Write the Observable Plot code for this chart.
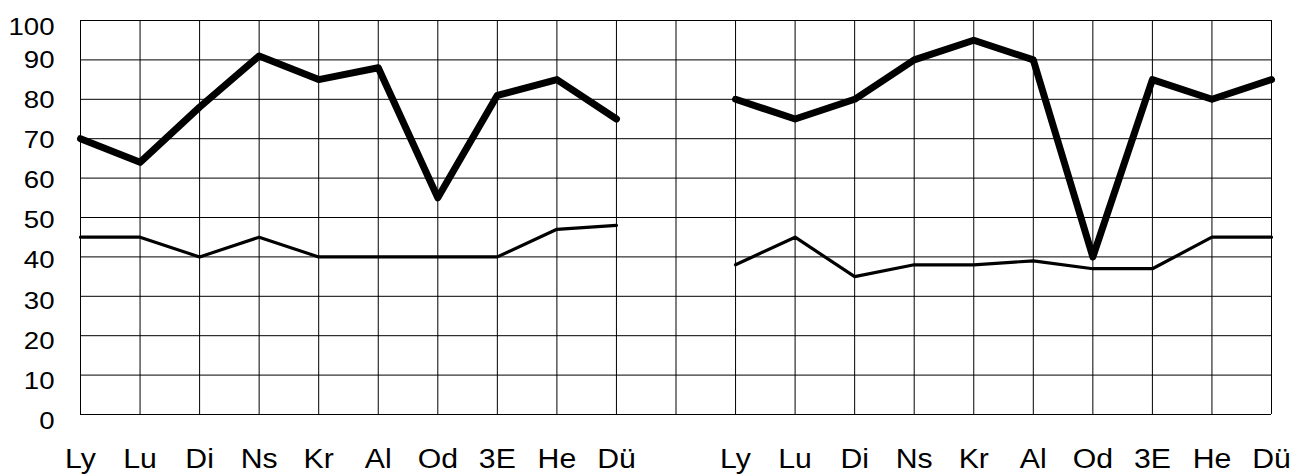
<!DOCTYPE html>
<html>
<head>
<meta charset="utf-8">
<script src="https://cdn.jsdelivr.net/npm/d3@7"></script>
<script src="https://cdn.jsdelivr.net/npm/@observablehq/plot@0.6"></script>
<style>
  html, body { margin: 0; padding: 0; background: #fff; }
  svg { display: block; }
</style>
</head>
<body>
<div id="chart"></div>
<script>
// ---- data ----
const categories = ["Ly", "Lu", "Di", "Ns", "Kr", "Al", "Od", "3E", "He", "Dü"];
const leftThick  = [70, 64, 78, 91, 85, 88, 55, 81, 85, 75];
const leftThin   = [45, 45, 40, 45, 40, 40, 40, 40, 47, 48];
const rightThick = [80, 75, 80, 90, 95, 90, 40, 85, 80, 85];
const rightThin  = [38, 45, 35, 38, 38, 39, 37, 37, 45, 45];
const yTicks = [0, 10, 20, 30, 40, 50, 60, 70, 80, 90, 100];

// two panels on one shared grid: left slots 0..9, empty slot 10, right slots 11..20
const panels = [
  { name: "left",  offset: 0,  thick: leftThick,  thin: leftThin },
  { name: "right", offset: 11, thick: rightThick, thin: rightThin }
];
const rows = panels.flatMap(p => categories.map((c, i) => ({
  panel: p.name, slot: p.offset + i, cat: c, thick: p.thick[i], thin: p.thin[i]
})));
const slots = d3.range(0, 21);

const yLabelDy = v => v === 100 ? 6.5 : (90 - v) / 90 * 7;

const chart = Plot.plot({
  width: 1305,
  height: 475,
  marginLeft: 80,
  marginRight: 34,
  marginTop: 20,
  marginBottom: 61,
  x: { type: "linear", domain: [0, 20], axis: null },
  y: { domain: [0, 100], axis: null },
  style: { background: "white", fontFamily: "'Liberation Sans', Arial, sans-serif", color: "black" },
  marks: [
    Plot.ruleX(slots, { x: d => d, stroke: "black", strokeWidth: 1 }),
    Plot.ruleY(yTicks, { y: d => d, stroke: "black", strokeWidth: 1 }),
    Plot.line(rows, { x: "slot", y: "thin", z: "panel", stroke: "black", strokeWidth: 3.2,
      strokeLinejoin: "round", strokeLinecap: "round" }),
    Plot.line(rows, { x: "slot", y: "thick", z: "panel", stroke: "black", strokeWidth: 7,
      strokeLinejoin: "round", strokeLinecap: "round" }),
    Plot.text(rows, { x: "slot", y: () => 0, text: "cat", dy: 45, fontSize: 27,
      fill: "black", textAnchor: "middle", className: "xlab" }),
    ...yTicks.map(v => Plot.text([v], { x: () => 0, y: d => d, text: d => String(d),
      textAnchor: "end", dx: -26, dy: yLabelDy(v), fontSize: 24, fill: "black", className: "ylab" }))
  ]
});

document.getElementById("chart").append(chart);

// the reference lettering is slightly wide; stretch each label about its anchor
function stretch(sel, s) {
  chart.querySelectorAll(sel).forEach(t => {
    const b = t.getBBox();
    const anchor = getComputedStyle(t).textAnchor;
    const ax = anchor === "end" ? b.x + b.width : anchor === "middle" ? b.x + b.width / 2 : b.x;
    const prev = t.getAttribute("transform") || "";
    t.setAttribute("transform", `${prev} translate(${ax},0) scale(${s},1) translate(${-ax},0)`);
  });
}
stretch(".xlab text", 1.12);
stretch(".ylab text", 1.15);
</script>
</body>
</html>
